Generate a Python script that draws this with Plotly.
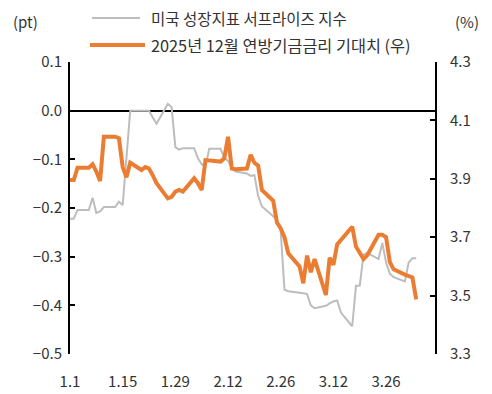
import plotly.graph_objects as go

dates = [
    "2025-01-01", "2025-01-02", "2025-01-03", "2025-01-06", "2025-01-07", "2025-01-08",
    "2025-01-09", "2025-01-10", "2025-01-13", "2025-01-14", "2025-01-15", "2025-01-16",
    "2025-01-17", "2025-01-20", "2025-01-21", "2025-01-22", "2025-01-23", "2025-01-24",
    "2025-01-27", "2025-01-28", "2025-01-29", "2025-01-30", "2025-01-31", "2025-02-03",
    "2025-02-04", "2025-02-05", "2025-02-06", "2025-02-07", "2025-02-10", "2025-02-11",
    "2025-02-12", "2025-02-13", "2025-02-14", "2025-02-17", "2025-02-18", "2025-02-19",
    "2025-02-20", "2025-02-21", "2025-02-24", "2025-02-25", "2025-02-26", "2025-02-27",
    "2025-02-28", "2025-03-03", "2025-03-04", "2025-03-05", "2025-03-06", "2025-03-07",
    "2025-03-10", "2025-03-11", "2025-03-12", "2025-03-13", "2025-03-14", "2025-03-17",
    "2025-03-18", "2025-03-19", "2025-03-20", "2025-03-21", "2025-03-24", "2025-03-25",
    "2025-03-26", "2025-03-27", "2025-03-28", "2025-03-31", "2025-04-01", "2025-04-02",
    "2025-04-03",
]

surprise_index = [
    -0.222, -0.222, -0.204, -0.204, -0.179, -0.210,
    -0.207, -0.198, -0.198, -0.187, -0.194, -0.097,
    0.000, 0.000, 0.000, 0.000, -0.014, -0.027,
    0.014, 0.007, -0.075, -0.080, -0.077, -0.077,
    -0.098, -0.110, -0.115, -0.078, -0.078, -0.097,
    -0.103, -0.118, -0.125, -0.129, -0.134, -0.132,
    -0.175, -0.197, -0.217, -0.225, -0.248, -0.368,
    -0.371, -0.373, -0.375, -0.377, -0.400, -0.406,
    -0.401, -0.396, -0.392, -0.390, -0.415, -0.443,
    -0.360, -0.360, -0.296, -0.292, -0.305, -0.272,
    -0.312, -0.335, -0.342, -0.351, -0.312, -0.303,
    -0.303,
]

fed_funds_dec25 = [
    3.896, 3.896, 3.938, 3.938, 3.950, 3.925,
    3.892, 4.044, 4.044, 4.039, 3.940, 3.905,
    3.955, 3.930, 3.940, 3.935, 3.912, 3.885,
    3.833, 3.838, 3.856, 3.862, 3.856, 3.902,
    3.885, 3.862, 3.964, 3.962, 3.959, 3.970,
    4.044, 3.935, 3.933, 3.935, 3.982, 3.955,
    3.945, 3.862, 3.825, 3.750, 3.730, 3.700,
    3.645, 3.600, 3.542, 3.637, 3.580, 3.625,
    3.502, 3.630, 3.605, 3.675, 3.690, 3.736,
    3.668, 3.645, 3.625, 3.638, 3.708, 3.708,
    3.700, 3.615, 3.590, 3.572, 3.567, 3.562,
    3.487,
]

x_tick_vals = ["2025-01-01", "2025-01-15", "2025-01-29", "2025-02-12",
               "2025-02-26", "2025-03-12", "2025-03-26"]
x_tick_text = ["1.1", "1.15", "1.29", "2.12", "2.26", "3.12", "3.26"]
y_left_vals = [0.1, 0.0, -0.1, -0.2, -0.3, -0.4, -0.5]
y_left_text = ["0.1", "0.0", "−0.1", "−0.2", "−0.3", "−0.4", "−0.5"]
y_right_vals = [4.3, 4.1, 3.9, 3.7, 3.5, 3.3]
y_right_text = ["4.3", "4.1", "3.9", "3.7", "3.5", "3.3"]

name_gray = "미국 성장지표 서프라이즈 지수"
name_orange = "2025년 12월 연방기금금리 기대치 (우)"

GRAY = "#BDBDBD"
ORANGE = "#EB7D32"
TXT = "#333333"
FONT = "Noto Sans CJK KR"

W, H = 492, 394
L, R, T, B = 70, 57, 62, 40
PW, PH = W - L - R, H - T - B


def px(xp):
    return (xp - L) / PW


def py(yp):
    return (H - B - yp) / PH


fig = go.Figure()
fig.add_trace(go.Scatter(x=dates, y=surprise_index, mode="lines", name=name_gray,
                         line=dict(color=GRAY, width=2), yaxis="y"))
fig.add_trace(go.Scatter(x=dates, y=fed_funds_dec25, mode="lines", name=name_orange,
                         line=dict(color=ORANGE, width=4), yaxis="y2"))

fig.update_layout(
    width=W, height=H,
    margin=dict(l=L, r=R, t=T, b=B, pad=0, autoexpand=False),
    paper_bgcolor="white", plot_bgcolor="white",
    showlegend=False,
    font=dict(family=FONT, size=15, color=TXT),
    xaxis=dict(type="date", range=["2025-01-01", "2025-04-08"],
               tickvals=x_tick_vals, ticktext=x_tick_text, automargin=False,
               showgrid=False, showline=False, zeroline=False,
               ticks="outside", ticklen=14, tickcolor="rgba(0,0,0,0)"),
    yaxis=dict(range=[-0.5, 0.1], tickvals=y_left_vals, ticktext=y_left_text,
               automargin=False,
               showgrid=False, showline=True, linecolor="black", linewidth=2,
               ticks="inside", ticklen=5, tickwidth=2, tickcolor="black",
               zeroline=True, zerolinecolor="black", zerolinewidth=2,
               ticklabelstandoff=3),
    yaxis2=dict(range=[3.3, 4.3], tickvals=y_right_vals, ticktext=y_right_text,
                overlaying="y", side="right", anchor="x", automargin=False,
                showgrid=False, showline=True, linecolor="black", linewidth=2,
                ticks="inside", ticklen=5, tickwidth=2, tickcolor="black",
                zeroline=False, ticklabelstandoff=10),
)

# custom legend
fig.add_shape(type="line", xref="paper", yref="paper",
              x0=px(92), x1=px(140), y0=py(18), y1=py(18),
              line=dict(color=GRAY, width=2))
fig.add_shape(type="line", xref="paper", yref="paper",
              x0=px(90), x1=px(145), y0=py(45), y1=py(45),
              line=dict(color=ORANGE, width=4))
fig.add_annotation(x=px(149), y=py(18), xref="paper", yref="paper", text=name_gray,
                   showarrow=False, xanchor="left", yanchor="middle",
                   font=dict(family=FONT, size=15.5, color=TXT))
fig.add_annotation(x=px(149), y=py(45), xref="paper", yref="paper", text=name_orange,
                   showarrow=False, xanchor="left", yanchor="middle",
                   font=dict(family=FONT, size=16.3, color=TXT))
fig.add_annotation(x=px(25), y=py(22), xref="paper", yref="paper", text="(pt)",
                   showarrow=False, xanchor="center", yanchor="middle",
                   font=dict(family=FONT, size=15, color=TXT))
fig.add_annotation(x=px(467), y=py(22), xref="paper", yref="paper", text="(%)",
                   showarrow=False, xanchor="center", yanchor="middle",
                   font=dict(family=FONT, size=15, color=TXT))

fig.write_html(
    "out.html",
    config={"displayModeBar": False},
    post_script=("document.documentElement.style.overflow='hidden';"
                 "document.body.style.overflow='hidden';"
                 "document.body.style.margin='0';document.body.style.padding='0';"),
)
